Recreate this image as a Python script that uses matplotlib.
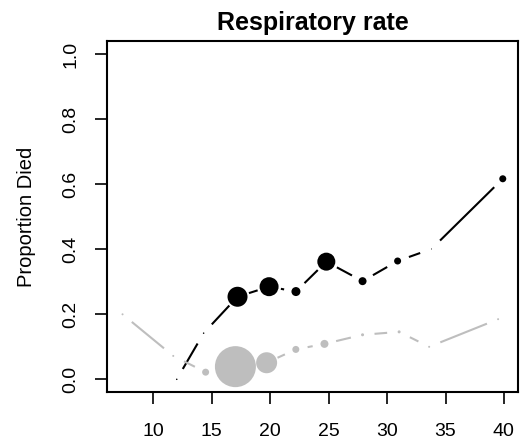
import numpy as np
import matplotlib
matplotlib.use("Agg")
import matplotlib.pyplot as plt

plt.rcParams['font.family'] = ['Liberation Sans', 'DejaVu Sans']

# respiratory rate bins (x), proportion died (y), relative point size (cex)
died_x = [12.0, 14.3, 17.2, 19.9, 22.2, 24.8, 27.9, 30.9, 33.8, 39.9]
died_y = [0.0, 0.142, 0.254, 0.285, 0.27, 0.362, 0.302, 0.364, 0.401, 0.617]
died_cex = [0.15, 0.15, 2.0, 1.9, 0.9, 1.8, 0.8, 0.7, 0.1, 0.7]

other_x = [7.36, 11.7, 14.47, 17.02, 19.69, 22.19, 24.64, 27.9, 31.03, 33.6, 39.5]
other_y = [0.2, 0.072, 0.022, 0.039, 0.051, 0.092, 0.109, 0.137, 0.146, 0.1, 0.185]
other_cex = [0.2, 0.2, 0.7, 4.1, 2.1, 0.7, 0.8, 0.3, 0.3, 0.2, 0.2]

x_ticks = [10, 15, 20, 25, 30, 35, 40]
y_ticks = [0.0, 0.2, 0.4, 0.6, 0.8, 1.0]

GAP = 12  # px gap around each point, like R type="b"
BASE = 10  # px diameter for cex 1


def draw_b(ax, xs, ys, cex, color):
    trans = ax.transData
    inv = trans.inverted()
    pts = trans.transform(np.column_stack([xs, ys]))
    for p0, p1 in zip(pts[:-1], pts[1:]):
        d = p1 - p0
        L = np.hypot(*d)
        if L <= 2 * GAP:
            continue
        u = d / L
        a = inv.transform(p0 + u * GAP)
        b = inv.transform(p1 - u * GAP)
        ax.plot([a[0], b[0]], [a[1], b[1]], color=color, lw=1.5,
                solid_capstyle='butt')
    sizes = [(c * BASE * 0.72) ** 2 for c in cex]
    ax.scatter(xs, ys, s=sizes, color=color, linewidths=0, zorder=3)


fig = plt.figure(figsize=(5.21, 4.42), dpi=100)
ax = fig.add_axes([0.206, 0.1124, 0.7882, 0.7942])

lo, hi = min(other_x + died_x), max(other_x + died_x)
pad = (hi - lo) * 0.04
ax.set_xlim(lo - pad, hi + pad)
ax.set_ylim(-0.04, 1.04)

draw_b(ax, died_x, died_y, died_cex, 'black')
draw_b(ax, other_x, other_y, other_cex, '#BEBEBE')

ax.set_xticks(x_ticks)
ax.set_xticklabels([str(t) for t in x_ticks])
ax.set_yticks(y_ticks)
ax.set_yticklabels([f'{t:.1f}' for t in y_ticks], rotation=90, va='center')
ax.tick_params(direction='out', length=8.8, width=1.2, labelsize=14)
ax.tick_params(axis='x', pad=13.5)
ax.tick_params(axis='y', pad=11.5)
for sp in ax.spines.values():
    sp.set_linewidth(1.5)

ax.set_ylabel('Proportion Died', fontsize=14.5, labelpad=19)
ax.set_title('Respiratory rate', fontsize=18, fontweight='bold', pad=8)

fig.savefig('out.png', dpi=100)
